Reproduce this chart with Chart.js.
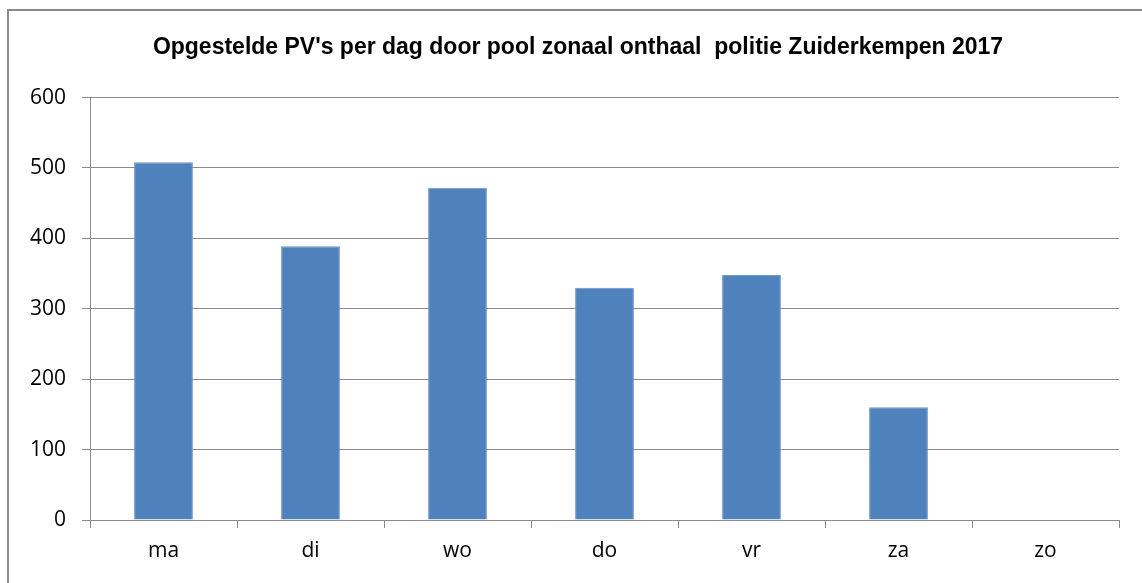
<!DOCTYPE html>
<html>
<head>
<meta charset="utf-8">
<script src="https://cdn.jsdelivr.net/npm/chart.js@4"></script>
<style>
    html, body { margin: 0; padding: 0; background: #fff; }
    #wrap { position: relative; width: 1142px; height: 583px; overflow: hidden; }
    #frame {
        position: absolute; left: 7px; top: 9px; width: 1200px; height: 700px;
        border-left: 2px solid #8a8a8a; border-top: 2px solid #8a8a8a;
        pointer-events: none;
    }
</style>
</head>
<body>
<div id="wrap">
    <canvas id="pvChart" width="1142" height="583"></canvas>
    <div id="frame"></div>
</div>
<script>
// Days of the week (Dutch abbreviations)
const days = ['ma', 'di', 'wo', 'do', 'vr', 'za', 'zo'];
// Number of PV's per day
const pvCounts = [508, 389, 472, 330, 348, 160, 0];
const chartTitle = "Opgestelde PV's per dag door pool zonaal onthaal  politie Zuiderkempen 2017";

// Nudge the centred title a little to the right, like the original
const titleShift = {
    id: 'titleShift',
    afterLayout: function(chart) {
        if (chart.titleBlock) {
            chart.titleBlock.left += 37;
        }
    }
};

document.addEventListener('DOMContentLoaded', function() {
    const ctx = document.getElementById('pvChart').getContext('2d');
    const gridColor = '#8c8c8c';
    const tickFont = { family: "'Open Sans', 'Liberation Sans', sans-serif", size: 21 };

    new Chart(ctx, {
        type: 'bar',
        data: {
            labels: days,
            datasets: [{
                label: 'PV\'s',
                data: pvCounts,
                backgroundColor: '#4f81bd',
                borderColor: '#6f97c9',
                borderWidth: 1,
                barPercentage: 0.4,
                categoryPercentage: 1.0
            }]
        },
        options: {
            responsive: false,
            animation: false,
            layout: { padding: { left: 0, right: 23, top: 0, bottom: 0 } },
            plugins: {
                legend: { display: false },
                tooltip: { enabled: false },
                title: {
                    display: true,
                    text: chartTitle,
                    color: '#000',
                    font: { family: "'Liberation Sans', Arial, sans-serif", size: 23, weight: 'bold', lineHeight: 1.2 },
                    padding: { top: 34, bottom: 36 }
                }
            },
            scales: {
                x: {
                    offset: true,
                    grid: {
                        offset: true,
                        drawOnChartArea: false,
                        drawTicks: true,
                        tickLength: 8,
                        color: gridColor
                    },
                    border: { color: gridColor, width: 1 },
                    ticks: { color: '#000', font: tickFont, padding: 10 },
                    afterFit: function(scale) { scale.height = 63; }
                },
                y: {
                    min: 0,
                    max: 600,
                    ticks: { stepSize: 100, color: '#000', font: tickFont, padding: 16 },
                    grid: { color: gridColor, tickLength: 8 },
                    border: { color: gridColor, width: 1 },
                    afterFit: function(scale) { scale.width = 90; }
                }
            }
        },
        plugins: [titleShift]
    });
});
</script>
</body>
</html>
